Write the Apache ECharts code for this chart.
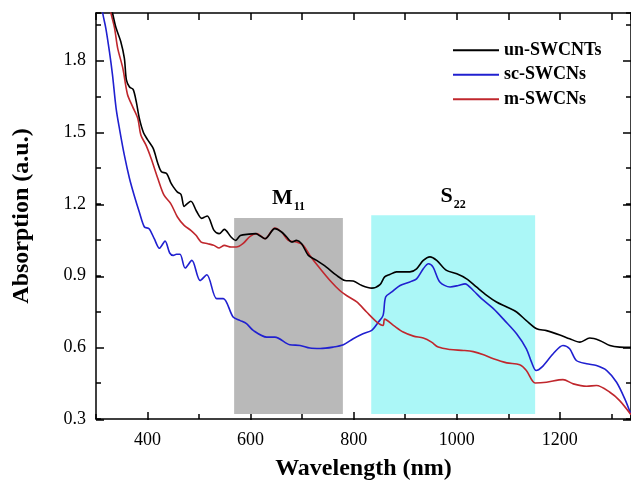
<!DOCTYPE html>
<html>
<head>
<meta charset="utf-8">
<script src="https://cdn.jsdelivr.net/npm/echarts@6/dist/echarts.min.js"></script>
<style>html,body{margin:0;padding:0;background:#fff}#c{width:631px;height:486px}</style>
</head>
<body>
<div id="c"></div>
<script>
// ---- data (wavelength nm, absorption a.u.) ----
const seriesNames = ['un-SWCNTs', 'sc-SWCNs', 'm-SWCNs'];
const unSWCNTs = [[326,2.05],[332,2.0],[339,1.937],[348,1.881],[355,1.811],[359,1.72],[365,1.69],[372,1.68],[378,1.63],[384,1.56],[392,1.50],[400,1.47],[411,1.433],[420,1.37],[427,1.335],[437,1.328],[445,1.29],[450,1.272],[458,1.25],[465,1.24],[471,1.19],[476,1.2],[484,1.212],[495,1.17],[505,1.14],[510,1.145],[516,1.15],[529,1.09],[539,1.076],[549,1.094],[562,1.062],[571,1.048],[580,1.068],[597,1.074],[610,1.076],[618,1.067],[628,1.055],[647,1.097],[660,1.083],[670,1.062],[680,1.041],[689,1.048],[699,1.034],[712,0.985],[728,0.964],[747,0.936],[767,0.901],[783,0.880],[799,0.878],[815,0.860],[835,0.848],[851,0.863],[860,0.895],[870,0.905],[883,0.916],[909,0.916],[922,0.929],[935,0.964],[948,0.979],[961,0.964],[980,0.922],[1000,0.908],[1019,0.887],[1038,0.853],[1058,0.818],[1077,0.790],[1097,0.769],[1116,0.748],[1135,0.712],[1155,0.678],[1174,0.670],[1200,0.652],[1219,0.636],[1239,0.622],[1258,0.639],[1277,0.629],[1297,0.608],[1316,0.601],[1338,0.600]];
const scSWCNs = [[311,2.05],[313,2.0],[319,1.937],[326,1.839],[332,1.741],[339,1.601],[346,1.51],[355,1.405],[365,1.307],[374,1.237],[384,1.167],[394,1.104],[403,1.097],[413,1.055],[423,1.015],[434,1.045],[443,0.995],[450,0.985],[456,0.99],[463,0.99],[473,0.932],[486,0.964],[502,0.88],[515,0.904],[534,0.804],[547,0.804],[566,0.727],[579,0.713],[592,0.699],[605,0.671],[631,0.643],[647,0.643],[676,0.611],[696,0.608],[715,0.597],[735,0.595],[760,0.601],[780,0.611],[799,0.636],[818,0.657],[835,0.671],[848,0.706],[857,0.734],[862,0.811],[874,0.832],[890,0.859],[909,0.874],[922,0.887],[935,0.929],[945,0.950],[954,0.936],[967,0.874],[987,0.853],[1003,0.859],[1016,0.866],[1032,0.838],[1048,0.804],[1071,0.762],[1093,0.712],[1116,0.657],[1135,0.594],[1145,0.538],[1154,0.503],[1165,0.517],[1187,0.573],[1206,0.608],[1219,0.594],[1232,0.545],[1252,0.531],[1271,0.524],[1291,0.503],[1310,0.454],[1326,0.384],[1338,0.318]];
const mSWCNs = [[325,2.05],[329,2.0],[336,1.937],[342,1.853],[352,1.769],[361,1.66],[371,1.608],[381,1.559],[387,1.489],[397,1.447],[407,1.391],[420,1.307],[432,1.237],[445,1.202],[458,1.146],[471,1.111],[484,1.090],[494,1.069],[504,1.041],[517,1.034],[529,1.027],[539,1.016],[549,1.027],[562,1.020],[572,1.020],[585,1.034],[599,1.065],[612,1.076],[628,1.055],[647,1.100],[660,1.083],[673,1.048],[689,1.041],[702,1.027],[715,0.985],[735,0.929],[754,0.880],[773,0.838],[786,0.817],[806,0.790],[825,0.748],[845,0.706],[857,0.692],[860,0.718],[877,0.692],[896,0.664],[916,0.647],[935,0.639],[951,0.622],[964,0.601],[987,0.591],[1013,0.587],[1032,0.582],[1052,0.569],[1071,0.552],[1097,0.535],[1122,0.527],[1135,0.503],[1152,0.451],[1174,0.454],[1206,0.465],[1226,0.447],[1252,0.437],[1271,0.440],[1297,0.412],[1316,0.377],[1338,0.318]];
// shaded bands: [x0, x1, y0, y1]
const bandM11 = [568, 779, 0.321, 1.142];
const bandS22 = [834, 1152, 0.321, 1.153];
// ticks
const xMajorTicks = [400, 600, 800, 1000, 1200];
const yMajorTicks = [0.3, 0.6, 0.9, 1.2, 1.5, 1.8];
const xRange = [300, 1338];
const yRange = [0.3, 2.0];

const FONT = '"Liberation Serif", "Times New Roman", serif';
const axisLine = { show: true, lineStyle: { color: '#000', width: 1.5 } };
const chart = echarts.init(document.getElementById('c'));
const grid = { left: 96, top: 13, right: 0, bottom: 66 };

chart.setOption({
  animation: false,
  grid: [Object.assign({}, grid), Object.assign({}, grid)],
  legend: {
    data: seriesNames,
    orient: 'vertical',
    left: 448, top: 36,
    icon: 'rect',
    itemWidth: 46, itemHeight: 2, itemGap: 6,
    textStyle: { fontFamily: FONT, fontSize: 18, fontWeight: 'bold', color: '#000', lineHeight: 18.5 }
  },
  xAxis: [
    { gridIndex: 0, type: 'value', position: 'bottom', min: xRange[0], max: xRange[1], interval: 100,
      axisLine, splitLine: { show: false },
      axisTick: { inside: true, length: 5, lineStyle: { color: '#000', width: 1.5 } },
      axisLabel: { customValues: xMajorTicks, margin: 12, formatter: v => String(v), fontFamily: FONT, fontSize: 18, color: '#000' },
      name: 'Wavelength (nm)', nameLocation: 'middle', nameGap: 38,
      nameTextStyle: { fontFamily: FONT, fontSize: 24, fontWeight: 'bold', color: '#000' } },
    { gridIndex: 0, type: 'value', position: 'top', min: xRange[0], max: xRange[1], interval: 100,
      axisLine, splitLine: { show: false },
      axisTick: { inside: true, length: 7, lineStyle: { color: '#000', width: 1.5 } },
      axisLabel: { show: false } },
    { gridIndex: 1, type: 'value', position: 'bottom', min: xRange[0], max: xRange[1],
      axisLine: { show: false }, splitLine: { show: false },
      axisTick: { show: true, customValues: xMajorTicks, inside: true, length: 8, lineStyle: { color: '#000', width: 1.5 } },
      axisLabel: { show: false } }
  ],
  yAxis: [
    { gridIndex: 0, type: 'value', position: 'left', min: yRange[0], max: yRange[1], interval: 0.15,
      axisLine, splitLine: { show: false },
      axisTick: { inside: true, length: 5, lineStyle: { color: '#000', width: 1.5 } },
      axisLabel: { customValues: yMajorTicks, margin: 10, formatter: v => v.toFixed(1), fontFamily: FONT, fontSize: 18, color: '#000' },
      name: 'Absorption (a.u.)', nameLocation: 'middle', nameGap: 62,
      nameTextStyle: { fontFamily: FONT, fontSize: 24, fontWeight: 'bold', color: '#000' } },
    { gridIndex: 0, type: 'value', position: 'right', min: yRange[0], max: yRange[1], interval: 0.15,
      axisLine, splitLine: { show: false },
      axisTick: { inside: true, length: 5, lineStyle: { color: '#000', width: 1.5 } },
      axisLabel: { show: false } },
    { gridIndex: 1, type: 'value', position: 'left', min: yRange[0], max: yRange[1],
      axisLine: { show: false }, splitLine: { show: false },
      axisTick: { show: true, customValues: yMajorTicks, inside: true, length: 8, lineStyle: { color: '#000', width: 1.5 } },
      axisLabel: { show: false } },
    { gridIndex: 1, type: 'value', position: 'right', min: yRange[0], max: yRange[1],
      axisLine: { show: false }, splitLine: { show: false },
      axisTick: { show: true, customValues: yMajorTicks, inside: true, length: 8, lineStyle: { color: '#000', width: 1.5 } },
      axisLabel: { show: false } }
  ],
  series: [
    { type: 'line', xAxisIndex: 0, yAxisIndex: 0, data: [], z: 1,
      markArea: {
        silent: true,
        data: [
          [ { coord: [bandM11[0], bandM11[2]], itemStyle: { color: '#b9b9b9' },
              label: { show: true, position: 'top', distance: 9, formatter: '{b|M}{s|11}' } },
            { coord: [bandM11[1], bandM11[3]] } ],
          [ { coord: [bandS22[0], bandS22[2]], itemStyle: { color: '#abf7f7' },
              label: { show: true, position: 'top', distance: 8, formatter: '{b|S}{s|22}' } },
            { coord: [bandS22[1], bandS22[3]] } ]
        ],
        label: {
          color: '#000',
          rich: {
            b: { fontFamily: FONT, fontSize: 22, fontWeight: 'bold', color: '#000', verticalAlign: 'bottom' },
            s: { fontFamily: FONT, fontSize: 12, fontWeight: 'bold', color: '#000', verticalAlign: 'bottom', padding: [0, 0, -4, 1] }
          }
        }
      } },
    { name: seriesNames[0], type: 'line', data: unSWCNTs, showSymbol: false, symbol: 'none', smooth: 0.3, z: 4,
      lineStyle: { color: '#000000', width: 1.6 }, itemStyle: { color: '#000000' } },
    { name: seriesNames[1], type: 'line', data: scSWCNs, showSymbol: false, symbol: 'none', smooth: 0.3, z: 3,
      lineStyle: { color: '#2020d0', width: 1.6 }, itemStyle: { color: '#2020d0' } },
    { name: seriesNames[2], type: 'line', data: mSWCNs, showSymbol: false, symbol: 'none', smooth: 0.3, z: 3,
      lineStyle: { color: '#c0272d', width: 1.6 }, itemStyle: { color: '#c0272d' } }
  ]
});
</script>
</body>
</html>
